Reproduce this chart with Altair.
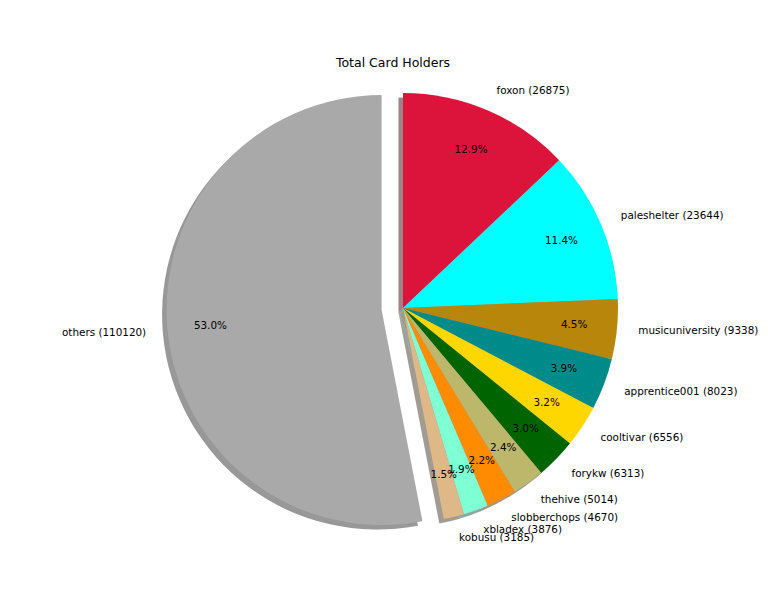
import altair as alt
import pandas as pd

# ---- data ----
names = ["foxon", "paleshelter", "musicuniversity", "apprentice001", "cooltivar",
         "forykw", "thehive", "slobberchops", "xbladex", "kobusu", "others"]
values = [26875, 23644, 9338, 8023, 6556, 6313, 5014, 4670, 3876, 3185, 110120]
explode = [0, 0, 0, 0, 0, 0, 0, 0, 0, 0, 0.1]
colors = ["#dc143c", "#00ffff", "#b8860b", "#008b8b", "#ffd700", "#006400",
          "#bdb76b", "#ff8c00", "#7fffd4", "#deb887", "#a9a9a9"]
title_text = "Total Card Holders"

# ---- layout constants ----
W, H = 768, 614
CX, CY, R = 403, 308, 215
SHADOW = 4.5
FONT = "DejaVu Sans"


def shade(hexcol):
    h = hexcol.lstrip("#")
    r, g, b = (int(h[i:i + 2], 16) for i in (0, 2, 4))
    return "#%02x%02x%02x" % (int(r * 0.3), int(g * 0.3), int(b * 0.3))


shadow_colors = [shade(c) for c in colors]

df = pd.DataFrame({"name": names, "value": values, "explode": explode,
                   "order": list(range(len(names)))})

base = (
    alt.Chart(df)
    .transform_window(cum="sum(value)", sort=[alt.SortField("order")], frame=[None, 0])
    .transform_joinaggregate(total="sum(value)")
    .transform_calculate(
        start="(datum.cum - datum.value) / datum.total",
        end="datum.cum / datum.total",
    )
    .transform_calculate(mid="(datum.start + datum.end) / 2")
    .transform_calculate(
        cx=f"{CX} + datum.explode * {R} * sin(datum.mid * 2 * PI)",
        cy=f"{CY} - datum.explode * {R} * cos(datum.mid * 2 * PI)",
        pct="format(datum.value / datum.total * 100, '.1f') + '%'",
        label="datum.name + ' (' + datum.value + ')'",
    )
    .transform_calculate(scx=f"datum.cx - {SHADOW}", scy=f"datum.cy + {SHADOW}")
)

theta_scale = alt.Scale(domain=[0, 1], range=[0, 6.283185307179586])

shadows = base.mark_arc(radius=R, opacity=0.5).encode(
    x=alt.X("scx:Q", scale=None, axis=None),
    y=alt.Y("scy:Q", scale=None, axis=None),
    theta=alt.Theta("start:Q", scale=theta_scale),
    theta2="end:Q",
    color=alt.Color("name:N", scale=alt.Scale(domain=names, range=shadow_colors), legend=None),
)

wedges = base.mark_arc(radius=R).encode(
    x=alt.X("cx:Q", scale=None, axis=None),
    y=alt.Y("cy:Q", scale=None, axis=None),
    theta=alt.Theta("start:Q", scale=theta_scale),
    theta2="end:Q",
    fill=alt.Fill("name:N", scale=alt.Scale(domain=names, range=colors), legend=None),
)

text_enc = dict(
    x=alt.X("cx:Q", scale=None, axis=None),
    y=alt.Y("cy:Q", scale=None, axis=None),
    theta=alt.Theta("mid:Q", scale=theta_scale),
)

labels_right = base.transform_filter("datum.mid < 0.5").mark_text(
    radius=R * 1.1, align="left", baseline="middle", font=FONT, fontSize=10.4, color="black"
).encode(text="label:N", **text_enc)

labels_left = base.transform_filter("datum.mid >= 0.5").mark_text(
    radius=R * 1.1, align="right", baseline="middle", font=FONT, fontSize=10.4, color="black"
).encode(text="label:N", **text_enc)

pcts = base.mark_text(
    radius=R * 0.8, align="center", baseline="middle", font=FONT, fontSize=10.4, color="black"
).encode(text="pct:N", **text_enc)

title = alt.Chart(pd.DataFrame({"t": [title_text]})).mark_text(
    font=FONT, fontSize=12.5, align="center", baseline="alphabetic", color="black"
).encode(text="t:N", x=alt.value(393), y=alt.value(67))

chart = (
    alt.layer(shadows, wedges, labels_right, labels_left, pcts, title)
    .resolve_scale(color="independent", fill="independent")
    .properties(width=W, height=H, autosize=alt.AutoSizeParams(type="none"), padding=0,
                background="white")
    .configure_view(stroke=None)
)

chart.save("out.html", embed_options={"renderer": "svg", "actions": False})
